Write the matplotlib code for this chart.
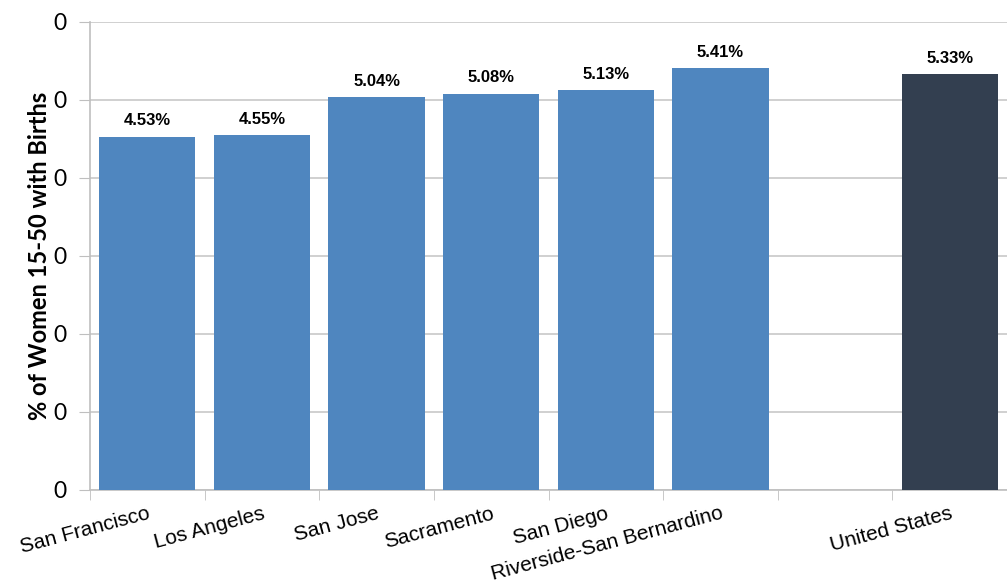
import matplotlib
matplotlib.use("Agg")
import matplotlib.pyplot as plt
from matplotlib.ticker import FixedLocator, FuncFormatter

plt.rcParams['font.family'] = ['Liberation Sans', 'DejaVu Sans']

# 数据：各都市区 15-50 岁女性生育比例 (%)，第7格为空位
categories = ['San Francisco', 'Los Angeles', 'San Jose', 'Sacramento',
              'San Diego', 'Riverside-San Bernardino', '', 'United States']
birth_pct = [4.53, 4.55, 5.04, 5.08, 5.13, 5.41, None, 5.33]
bar_colors = ['#4f86bf'] * 6 + ['#ffffff', '#333f50']
y_ticks = [0, 1, 2, 3, 4, 5, 6]

fig = plt.figure(figsize=(10.07, 5.87), dpi=100)
ax = fig.add_axes([90 / 1007, 97 / 587, 917 / 1007, 468 / 587])

for i, (cat, v) in enumerate(zip(categories, birth_pct)):
    if v is None:
        continue
    ax.bar(i, v, width=0.84, color=bar_colors[i], zorder=3)
    ax.annotate(f'{v:.2f}%', xy=(i, v), xytext=(0, 6), textcoords='offset points',
                ha='center', va='bottom', fontsize=12, fontweight='bold')

ax.set_xlim(-0.5, len(categories) - 0.5)
ax.set_ylim(0, 6)

# y轴刻度标签全部显示为 "0"（原图格式问题）
ax.set_yticks(y_ticks)
ax.yaxis.set_major_formatter(FuncFormatter(lambda v, p: '0'))
ax.tick_params(axis='y', length=8, color='#bfbfbf', labelsize=16.5, pad=9)
for lbl in ax.get_yticklabels():
    lbl.set_family(['Lato', 'DejaVu Sans'])
ax.grid(axis='y', color='#c8c8c8', linewidth=1.2, zorder=0)

# x轴：格子边界画刻度，标签放中间
ax.set_xticks(range(len(categories)))
ax.set_xticklabels(categories, rotation=15, ha='right', rotation_mode='anchor',
                   fontsize=15)
ax.xaxis.set_minor_locator(FixedLocator([k - 0.5 for k in range(len(categories) + 1)]))
ax.tick_params(axis='x', which='major', length=0, pad=10)
ax.tick_params(axis='x', which='minor', length=7, color='#bfbfbf')
for lbl in ax.get_xticklabels():
    lbl.set_verticalalignment('top')

for s in ['top', 'right']:
    ax.spines[s].set_visible(False)
ax.spines['left'].set_color('#bfbfbf')
ax.spines['bottom'].set_color('#bfbfbf')
ax.spines['left'].set_linewidth(1.2)
ax.spines['bottom'].set_linewidth(1.2)

ax.set_ylabel('% of Women 15-50 with Births', fontsize=17, fontweight='bold',
              family=['Lato', 'DejaVu Sans'], labelpad=1.5)

fig.savefig('out.png', dpi=100)
